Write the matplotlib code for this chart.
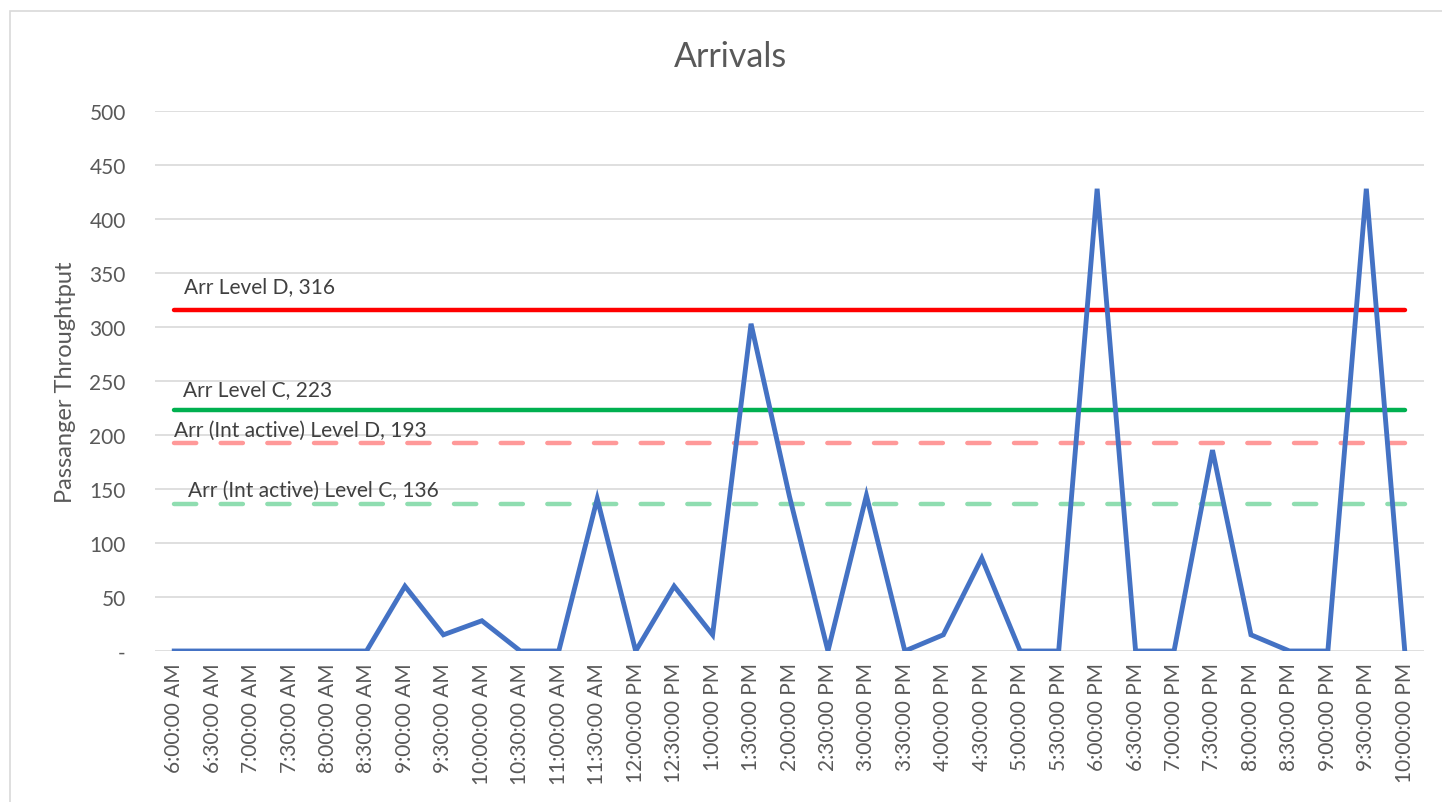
import numpy as np
import matplotlib
matplotlib.use("Agg")
import matplotlib.pyplot as plt
from matplotlib.patches import Rectangle

plt.rcParams["font.family"] = ["Lato", "DejaVu Sans"]

# time slots, 30 min apart
times = ["6:00:00 AM", "6:30:00 AM", "7:00:00 AM", "7:30:00 AM", "8:00:00 AM",
         "8:30:00 AM", "9:00:00 AM", "9:30:00 AM", "10:00:00 AM", "10:30:00 AM",
         "11:00:00 AM", "11:30:00 AM", "12:00:00 PM", "12:30:00 PM", "1:00:00 PM",
         "1:30:00 PM", "2:00:00 PM", "2:30:00 PM", "3:00:00 PM", "3:30:00 PM",
         "4:00:00 PM", "4:30:00 PM", "5:00:00 PM", "5:30:00 PM", "6:00:00 PM",
         "6:30:00 PM", "7:00:00 PM", "7:30:00 PM", "8:00:00 PM", "8:30:00 PM",
         "9:00:00 PM", "9:30:00 PM", "10:00:00 PM"]
arrivals = [0, 0, 0, 0, 0, 0, 60, 15, 28, 0, 0, 141, 0, 60, 15, 303, 143, 0,
            144, 0, 15, 86, 0, 0, 428, 0, 0, 186, 15, 0, 0, 428, 0]

level_names = ["Arr Level D", "Arr Level C",
               "Arr (Int active) Level D", "Arr (Int active) Level C"]
level_values = [316, 223, 193, 136]

GREY = "#595959"

fig = plt.figure(figsize=(14.42, 8.03), dpi=100)
ax = fig.add_axes([155 / 1442, 1 - 652 / 803, (1424 - 155) / 1442, (652 - 112) / 803])

# chart area border
fig.patches.append(Rectangle((10 / 1442, -0.05), 1.0, 1 - 12 / 803 + 0.05,
                             transform=fig.transFigure, fill=False,
                             edgecolor="#D9D9D9", lw=1.2))

x = np.arange(len(times))
ax.plot(x, arrivals, color="#4472C4", lw=3.5, solid_joinstyle="miter", zorder=5)

styles = [dict(color="#FF0000", ls="-"),
          dict(color="#00B050", ls="-"),
          dict(color="#FF9999", ls=(0, (5, 5.5))),
          dict(color="#8FDDB0", ls=(0, (5, 5.5)))]
offsets = [(10, 24), (9, 21), (0, 12.5), (14, 14)]
for name, val, st, off in zip(level_names, level_values, styles, offsets):
    ax.plot(x, [val] * len(x), lw=3.2, dash_capstyle="round",
            solid_capstyle="round", zorder=4, **st)
    ax.annotate("%s, %d" % (name, val), xy=(0, val), xytext=off,
                textcoords="offset pixels", ha="left", va="center",
                fontsize=15, color="#404040", zorder=6)

ax.set_xlim(-0.5, len(times) - 0.5)
ax.set_ylim(0, 500)
ax.set_yticks(np.arange(0, 501, 50))
ax.set_yticklabels(["-"] + [str(v) for v in range(50, 501, 50)])
ax.set_xticks(x)
ax.set_xticklabels(times, rotation=90)
ax.tick_params(axis="both", length=0, colors=GREY, labelsize=15)
ax.tick_params(axis="y", pad=21)
ax.tick_params(axis="x", pad=8)
ax.grid(axis="y", color="#D9D9D9", lw=1.2)
ax.set_axisbelow(True)
for s in ax.spines.values():
    s.set_visible(False)

ax.set_ylabel("Passanger Throughtput", fontsize=17, color=GREY, labelpad=10)
fig.text(731 / 1442, 1 - 57 / 803, "Arrivals", fontsize=24.5, color=GREY,
         ha="center", va="center")

fig.savefig("out.png", dpi=100)
